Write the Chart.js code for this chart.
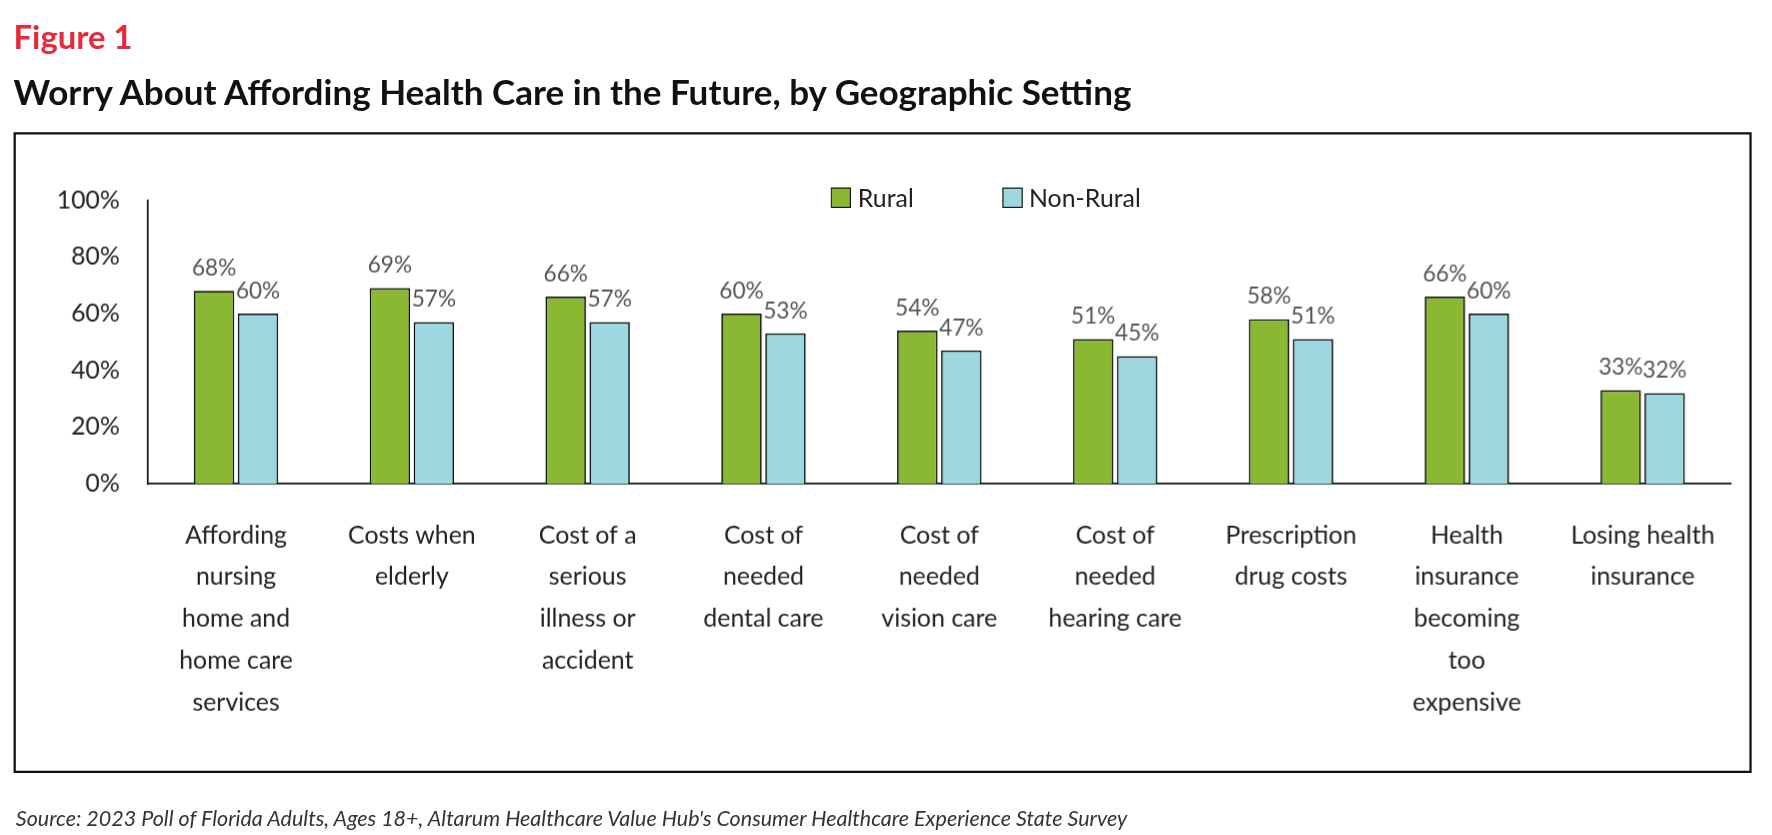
<!DOCTYPE html>
<html><head><meta charset="utf-8">
<script src="https://cdn.jsdelivr.net/npm/chart.js@4"></script>
<style>
body{margin:0;background:#fff;width:1772px;height:835px;position:relative;overflow:hidden;font-family:Lato,"Open Sans",sans-serif;}
#wrap{position:absolute;left:0;top:0;width:1568px;height:739px;transform:scale(1.1301);transform-origin:0 0;}
#fig{position:absolute;left:12px;top:14px;color:#e8283c;font-weight:bold;font-size:29px;}
#title{position:absolute;left:12px;top:62px;color:#111;font-weight:bold;font-size:31px;}
#box{position:absolute;left:12px;top:117px;width:1534px;height:563px;border:2px solid #111;}
#src{position:absolute;left:14px;top:712px;font-style:italic;font-size:19px;color:#333;}
#legend{position:absolute;left:735px;top:161px;font-size:22px;color:#222;display:flex;gap:78px;}
#legend span{display:inline-flex;align-items:center;gap:6px;}
#legend i{display:inline-block;width:16px;height:16px;border:1.5px solid #111;}
canvas{position:absolute;left:0;top:0;}
</style></head><body>
<div id="wrap">
<div id="fig">Figure 1</div>
<div id="title">Worry About Affording Health Care in the Future, by Geographic Setting</div>
<div id="box"><canvas id="c" style="width:1534px;height:563px"></canvas></div>
<div id="legend"><span><i style="background:#8ab833"></i>Rural</span><span><i style="background:#9dd7df"></i>Non-Rural</span></div>
<div id="src">Source: 2023 Poll of Florida Adults, Ages 18+, Altarum Healthcare Value Hub's Consumer Healthcare Experience State Survey</div>
</div>
<script>
const categories=[["Affording","nursing","home and","home care","services"],["Costs when","elderly"],["Cost of a","serious","illness or","accident"],["Cost of","needed","dental care"],["Cost of","needed","vision care"],["Cost of","needed","hearing care"],["Prescription","drug costs"],["Health","insurance","becoming","too","expensive"],["Losing health","insurance"]];
const rural=[68,69,66,60,54,51,58,66,33];
const nonRural=[60,57,57,53,47,45,51,60,32];
const yTicks=[0,20,40,60,80,100];
const labelPlugin={id:'lbl',afterDatasetsDraw(ch){const c=ch.ctx;c.save();c.font='20px Lato';c.fillStyle='#555';c.textAlign='center';c.textBaseline='bottom';
ch.data.datasets.forEach((d,i)=>{ch.getDatasetMeta(i).data.forEach((b,j)=>{c.fillText(d.data[j]+'%',b.x,b.y-10);});});c.restore();}};
new Chart(document.getElementById('c'),{type:'bar',
data:{labels:categories,datasets:[
{label:'Rural',data:rural,backgroundColor:'#8ab833',borderColor:'#111',borderWidth:1.5,categoryPercentage:0.5,barPercentage:0.92},
{label:'Non-Rural',data:nonRural,backgroundColor:'#9dd7df',borderColor:'#111',borderWidth:1.5,categoryPercentage:0.5,barPercentage:0.92}]},
options:{responsive:false,animation:false,devicePixelRatio:1.13,events:[],layout:{padding:{left:20,right:17,top:58,bottom:0}},
plugins:{legend:{display:false},tooltip:{enabled:false}},
scales:{
x:{grid:{display:false,drawTicks:false},border:{color:'#111',width:1.5},ticks:{color:'#222',font:{size:22,family:'Lato',lineHeight:1.68},padding:27,maxRotation:0,autoSkip:false},afterFit(s){s.height=254;}},
y:{min:0,max:100,afterBuildTicks(s){s.ticks=yTicks.map(v=>({value:v}));},grid:{display:false,drawTicks:false},border:{color:'#111',width:1.5},ticks:{color:'#222',font:{size:22,family:'Lato'},padding:25,callback:v=>v+'%'},afterFit(s){s.width=97;}}
}},plugins:[labelPlugin]});
</script></body></html>
